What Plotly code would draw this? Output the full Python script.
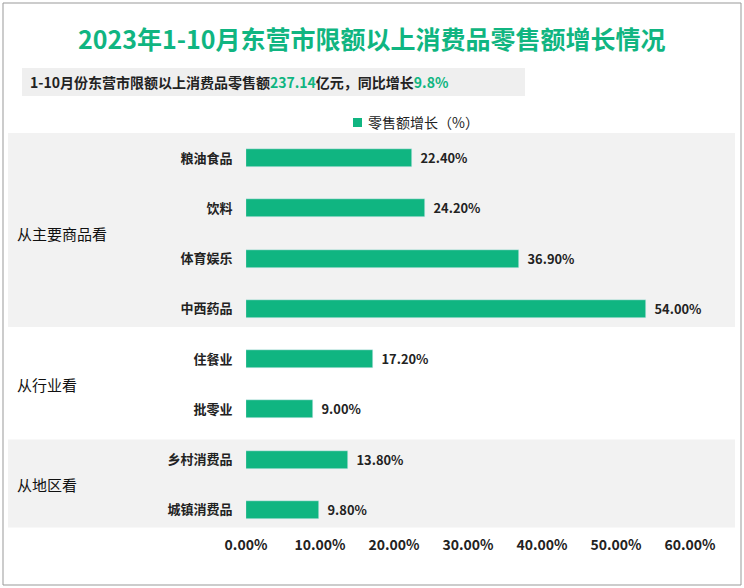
import plotly.graph_objects as go

categories = ["粮油食品", "饮料", "体育娱乐", "中西药品", "住餐业", "批零业", "乡村消费品", "城镇消费品"]
values = [22.4, 24.2, 36.9, 54.0, 17.2, 9.0, 13.8, 9.8]
groups = [("从主要商品看", 0, 3), ("从行业看", 4, 5), ("从地区看", 6, 7)]
xticks = [0, 10, 20, 30, 40, 50, 60]

GREEN = "#10b581"
W, H = 744, 588
L, R, T, B = 246, 690, 133, 535
pw, ph = R - L, B - T
def px(x): return (x - L) / pw
def py(y): return (B - y) / ph

pos = list(range(len(categories)))
fig = go.Figure(go.Bar(
    x=values, y=pos, orientation="h", width=0.36, marker_color=GREEN,
    text=[f"  <b>{v:.2f}%</b>" for v in values], textposition="outside",
    textfont=dict(size=15, color="#222"), cliponaxis=False,
    name="零售额增长（%）", showlegend=False))

shapes = []
bounds = [(-0.5, 3.36), (3.36, 5.6), (5.6, 7.35)]
for i, (y0, y1) in enumerate(bounds):
    shapes.append(dict(type="rect", xref="paper", yref="y", x0=px(8), x1=px(735),
                       y0=y0, y1=y1, fillcolor="#f2f2f2" if i % 2 == 0 else "white",
                       line_width=0, layer="below"))
shapes.append(dict(type="rect", xref="paper", yref="paper", x0=px(3), x1=px(741),
                   y0=py(585), y1=py(3), line=dict(color="#999", width=1), fillcolor="rgba(0,0,0,0)"))
shapes.append(dict(type="rect", xref="paper", yref="paper", x0=px(22), x1=px(525),
                   y0=py(96), y1=py(68), line_width=0, fillcolor="#efefef", layer="below"))
shapes.append(dict(type="rect", xref="paper", yref="paper", x0=px(353), x1=px(362),
                   y0=py(127), y1=py(118), line_width=0, fillcolor=GREEN))

ann = [dict(text=n, xref="paper", yref="y", x=px(15), y=(a + b) / 2,
            xanchor="left", yanchor="middle", showarrow=False, font=dict(size=15, color="#111"))
       for n, a, b in groups]
ann.append(dict(text="<b>2023年1-10月东营市限额以上消费品零售额增长情况</b>", xref="paper", yref="paper",
                x=px(372), y=py(38), xanchor="center", yanchor="middle", showarrow=False,
                font=dict(size=25, color=GREEN)))
ann.append(dict(text="<b>1-10月份东营市限额以上消费品零售额<span style='color:#10b581'>237.14</span>亿元，同比增长<span style='color:#10b581'>9.8%</span></b>",
                xref="paper", yref="paper", x=px(28), y=py(82), xanchor="left", yanchor="middle",
                showarrow=False, font=dict(size=14, color="#222")))
ann.append(dict(text="零售额增长（%）", xref="paper", yref="paper", x=px(366), y=py(122),
                xanchor="left", yanchor="middle", showarrow=False, font=dict(size=14, color="#222")))

fig.update_layout(
    width=W, height=H, margin=dict(l=L, r=W - R, t=T, b=H - B),
    paper_bgcolor="white", plot_bgcolor="rgba(0,0,0,0)",
    font=dict(family="Noto Sans CJK SC", color="#222"),
    shapes=shapes, annotations=ann, bargap=0,
    xaxis=dict(range=[0, 60], tickvals=xticks, ticktext=[f"<b>{v:.2f}%</b>" for v in xticks],
               showgrid=False, zeroline=False, tickfont=dict(size=14), ticklen=0, ticks=""),
    yaxis=dict(range=[7.5, -0.5], tickvals=pos, ticktext=[f"<b>{c}</b>" for c in categories],
               showgrid=False, zeroline=False, tickfont=dict(size=13), ticks="outside",
               ticklen=10, tickcolor="rgba(0,0,0,0)"),
)
fig.write_html("out.html", config={"displayModeBar": False},
               post_script="document.body.style.margin='0';")
